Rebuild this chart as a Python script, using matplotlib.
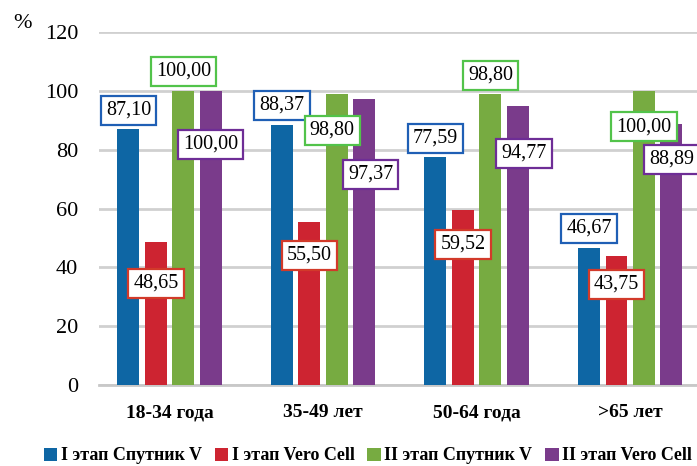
import numpy as np
import matplotlib.pyplot as plt

# возрастные группы и доля (%) по этапам и вакцинам
groups = ["18-34 года", "35-49 лет", "50-64 года", ">65 лет"]
series = ["I этап Спутник V", "I этап Vero Cell", "II этап Спутник V", "II этап Vero Cell"]
stage1_sputnik = [87.10, 88.37, 77.59, 46.67]
stage1_vero = [48.65, 55.50, 59.52, 43.75]
stage2_sputnik = [100.00, 98.80, 98.80, 100.00]
stage2_vero = [100.00, 97.37, 94.77, 88.89]
values = [stage1_sputnik, stage1_vero, stage2_sputnik, stage2_vero]

bar_colors = ["#0e66a4", "#cd2431", "#77ab41", "#7a3b8b"]
edge_colors = ["#1f5fb5", "#d23a2a", "#52c34a", "#6e2d96"]

# смещения подписей относительно вершины столбца (dx, dy)
label_offsets = [
    [(0, 6.3), (0, 6.7), (0, 6.3), (0, 6.6)],
    [(0, -14.1), (0, -11.4), (0, -11.7), (0, -9.5)],
    [(0, 6.6), (-0.03, -12.2), (0, 6.5), (0, -12.2)],
    [(0, -18.2), (0.04, -25.8), (0.04, -16.0), (0, -12.2)],
]

plt.rcParams['font.family'] = ['Liberation Serif', 'DejaVu Serif']

fig = plt.figure(figsize=(6.97, 4.66), dpi=100)
ax = fig.add_axes([99 / 697, 81 / 466, 608 / 697, 353 / 466])

x = np.arange(len(groups))
step = 0.179
width = 0.143
for k in range(4):
    xs = x + (k - 1.5) * step
    ax.bar(xs, values[k], width, color=bar_colors[k], label=series[k], zorder=3)
    for j in range(len(groups)):
        dx, dy = label_offsets[k][j]
        ax.text(xs[j] + dx, values[k][j] + dy, f"{values[k][j]:.2f}".replace(".", ","),
                ha="center", va="center", fontsize=14.5, zorder=5,
                bbox=dict(boxstyle="square,pad=0.25", fc="white", ec=edge_colors[k], lw=1.6))

ax.set_ylim(0, 120)
ax.set_xlim(-0.46, 3.5)
ax.set_yticks(range(0, 121, 20))
ax.yaxis.grid(True, color="#d0d0d0", lw=2, zorder=0)
ax.set_xticks(x)
ax.set_xticklabels(groups, fontsize=14, fontweight="bold")
ax.tick_params(axis="y", length=0, pad=15, labelsize=16)
ax.tick_params(axis="x", length=0, pad=14)
for s in ["top", "right", "left"]:
    ax.spines[s].set_visible(False)
ax.spines["bottom"].set_color("#c8c8c8")
ax.spines["bottom"].set_linewidth(2)

fig.text(22 / 697, 1 - 24 / 466, "%", fontsize=16, ha="center", va="center")

fig.legend(loc="center", bbox_to_anchor=(368 / 697, 10 / 466), ncol=4, frameon=False,
           handlelength=0.75, handleheight=0.75, handletextpad=0.2, columnspacing=0.7,
           prop={"size": 13, "weight": "bold"})

fig.savefig("out.png", dpi=100)
